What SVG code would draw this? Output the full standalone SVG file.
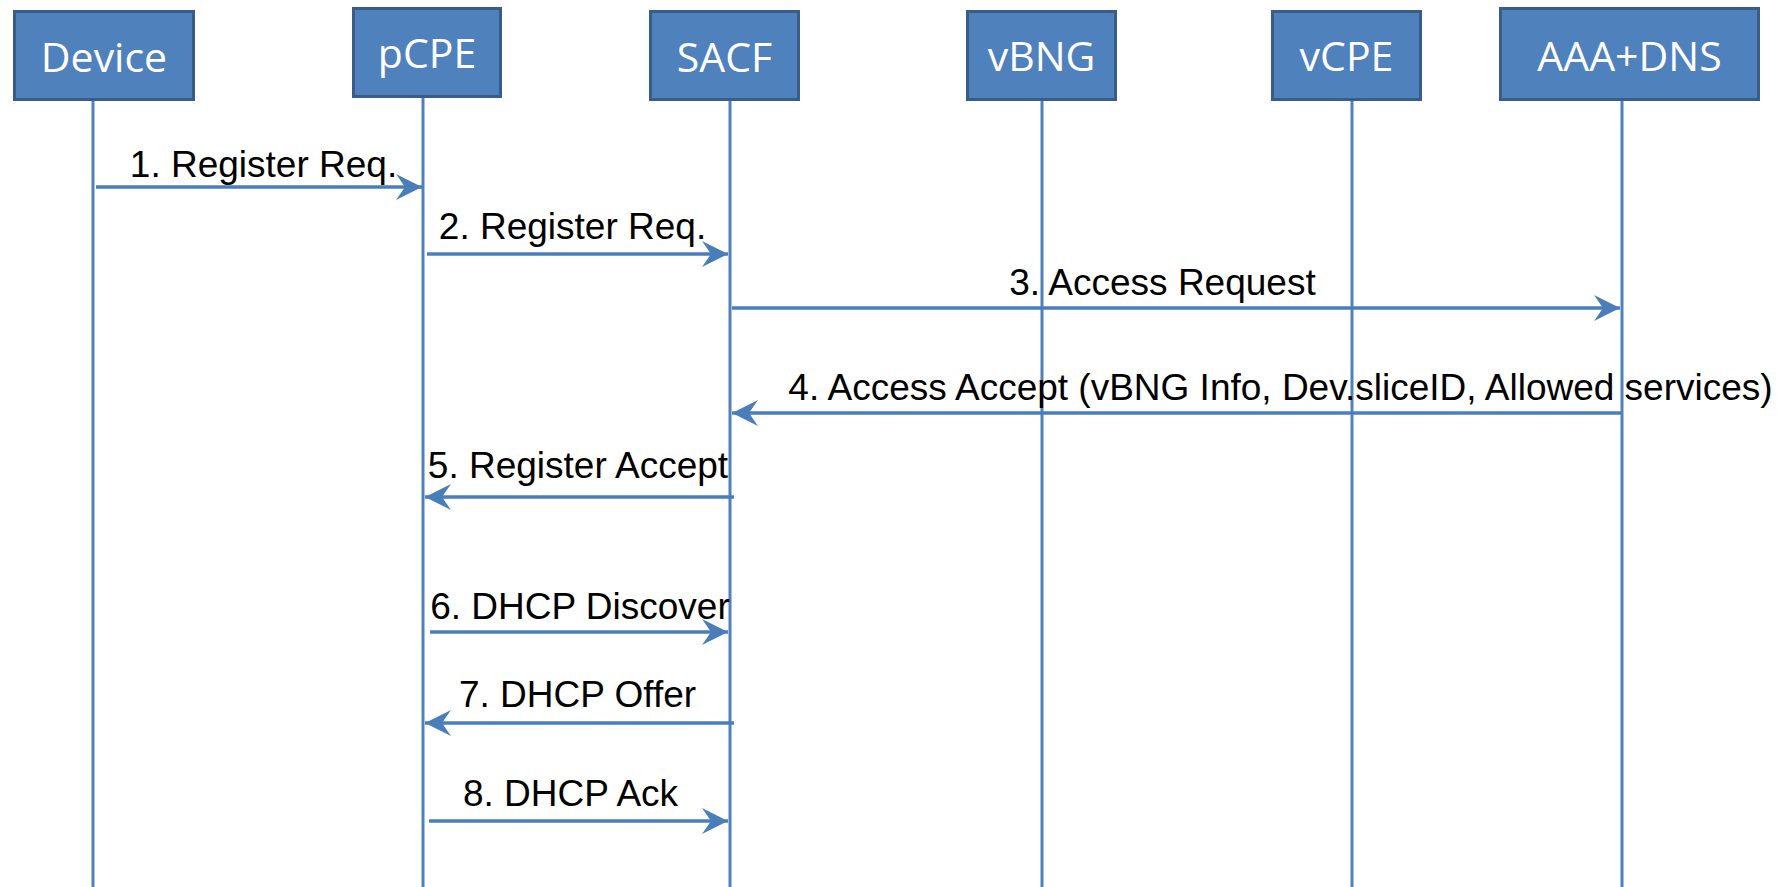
<svg xmlns="http://www.w3.org/2000/svg" width="1792" height="887" viewBox="0 0 1792 887">
<style>
.box{fill:#4f81bd;stroke:#385d8a;stroke-width:3}
.btxt{font-family:"Open Sans",sans-serif;font-size:41px;fill:#ffffff;text-anchor:middle}
.life{stroke:#4f81bd;stroke-width:3;fill:none}
.msg{stroke:#4a7ebb;stroke-width:3.5;fill:none;marker-end:url(#ah)}
.mtxt{font-family:"Liberation Sans",Arial,sans-serif;font-size:37px;fill:#000000;text-anchor:middle}
</style>
<defs>
<marker id="ah" markerUnits="userSpaceOnUse" markerWidth="30" markerHeight="30" viewBox="-28 -15 30 30" refX="0" refY="0" orient="auto">
<path d="M0,0 L-26,-13 L-17,0 L-26,13 Z" fill="#4a7ebb"/>
</marker>
</defs>
<rect width="1792" height="887" fill="#ffffff"/>
<g id="device"><rect class="box" x="14.5" y="11.5" width="179" height="88"/><text class="btxt" x="104" y="72">Device</text><line class="life" x1="93" y1="101" x2="93" y2="887"/></g>
<g id="pcpe"><rect class="box" x="353.5" y="8.5" width="147" height="88"/><text class="btxt" x="427" y="68">pCPE</text><line class="life" x1="423" y1="98" x2="423" y2="887"/></g>
<g id="sacf"><rect class="box" x="650.5" y="11.5" width="148" height="88"/><text class="btxt" x="724.5" y="72">SACF</text><line class="life" x1="730" y1="101" x2="730" y2="887"/></g>
<g id="vbng"><rect class="box" x="967.5" y="11.5" width="148" height="88"/><text class="btxt" x="1041.5" y="71">vBNG</text><line class="life" x1="1042" y1="101" x2="1042" y2="887"/></g>
<g id="vcpe"><rect class="box" x="1272.5" y="11.5" width="148" height="88"/><text class="btxt" x="1346.5" y="71">vCPE</text><line class="life" x1="1352" y1="101" x2="1352" y2="887"/></g>
<g id="aaadns"><rect class="box" x="1500.5" y="8.5" width="258" height="91"/><text class="btxt" x="1629.5" y="71">AAA+DNS</text><line class="life" x1="1622" y1="101" x2="1622" y2="887"/></g>
<g id="connectors">
<line class="msg" x1="96" y1="187" x2="422" y2="187"/>
<line class="msg" x1="427" y1="254" x2="728" y2="254"/>
<line class="msg" x1="732" y1="308" x2="1620" y2="308"/>
<line class="msg" x1="1622" y1="413" x2="732" y2="413"/>
<line class="msg" x1="734" y1="497" x2="425" y2="497"/>
<line class="msg" x1="430" y1="632" x2="728" y2="632"/>
<line class="msg" x1="734" y1="723" x2="425" y2="723"/>
<line class="msg" x1="429" y1="821" x2="728" y2="821"/>
</g>
<g id="labels">
<text class="mtxt" x="263.5" y="177">1. Register Req.</text>
<text class="mtxt" x="572.5" y="239">2. Register Req.</text>
<text class="mtxt" x="1162.5" y="295">3. Access Request</text>
<text class="mtxt" x="1280.5" y="400">4. Access Accept (vBNG Info, Dev.sliceID, Allowed services)</text>
<text class="mtxt" x="578" y="478">5. Register Accept</text>
<text class="mtxt" x="580" y="619">6. DHCP Discover</text>
<text class="mtxt" x="577.5" y="707">7. DHCP Offer</text>
<text class="mtxt" x="570.5" y="806">8. DHCP Ack</text>
</g>
</svg>
